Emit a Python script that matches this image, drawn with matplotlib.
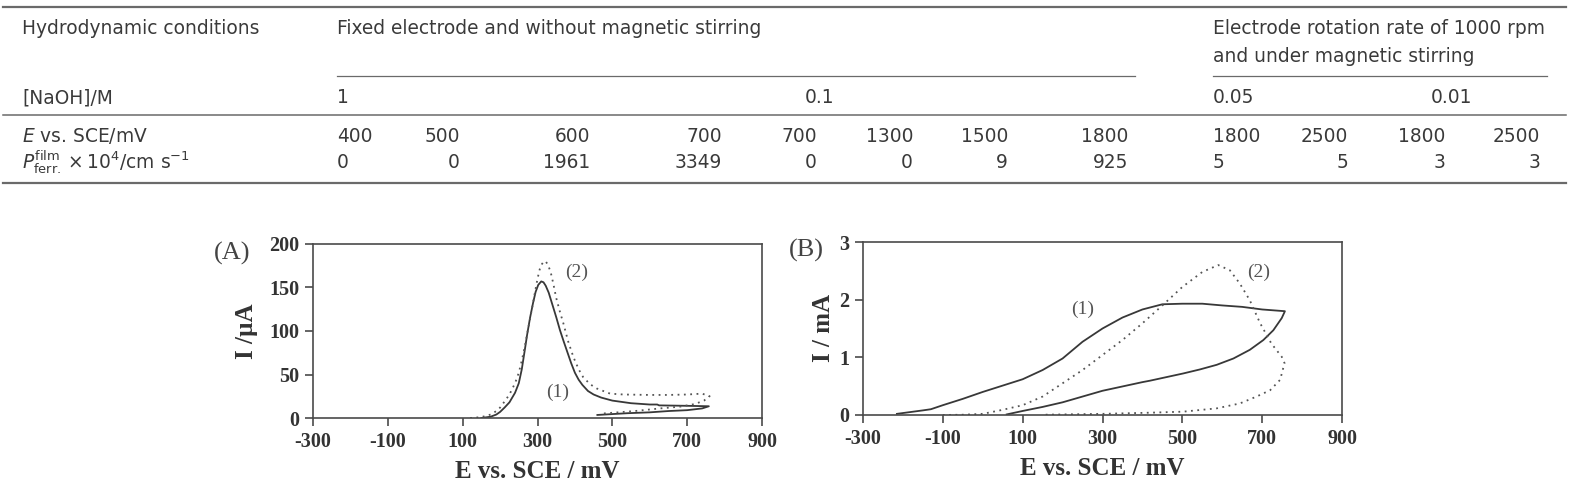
import numpy as np
import matplotlib
matplotlib.use("Agg")
import matplotlib.pyplot as plt

# ---- table contents ----
row_labels = ["Hydrodynamic conditions", "[NaOH]/M", r"$E$ vs. SCE/mV",
              r"$P^{\rm film}_{\rm ferr.}\times10^{4}/{\rm cm\ s}^{-1}$"]
hydro_conditions = ["Fixed electrode and without magnetic stirring",
                    "Electrode rotation rate of 1000 rpm|and under magnetic stirring"]
naoh = ["1", "0.1", "0.05", "0.01"]
e_vs_sce = [400, 500, 600, 700, 700, 1300, 1500, 1800, 1800, 2500, 1800, 2500]
p_ferr = [0, 0, 1961, 3349, 0, 0, 9, 925, 5, 5, 3, 3]

# ---- voltammograms ----
a1_e = [150, 175, 190, 200, 212, 225, 240, 250, 258, 266, 272, 280, 288, 295, 302, 310,
        316, 322, 330, 340, 350, 360, 370, 378, 390, 400, 410, 420, 435, 450, 470,
        500, 550, 600, 620, 625, 700, 758, 740, 700, 650, 600, 540, 500, 460]
a1_i = [0, 1.5, 4, 7, 12, 18, 29, 40, 56, 78, 95, 115, 132, 145, 153, 157,
        156, 152, 144, 130, 116, 101, 88, 78, 63, 52, 44, 38, 31, 27, 23.5,
        20, 17, 15.5, 15.5, 14.5, 14, 13.5, 11, 9, 8, 6.5, 5.5, 4.5, 3.5]
a2_e = [120, 150, 175, 190, 200, 212, 225, 240, 250, 258, 266, 275, 285, 293, 300, 306,
        312, 317, 322, 328, 335, 342, 350, 360, 369, 382, 396, 410, 422, 440,
        458, 494, 530, 600, 650, 700, 740, 760, 745, 720, 680, 627, 560, 500, 470]
a2_i = [0, 1, 4, 8, 12, 19, 27, 40, 52, 66, 82, 103, 125, 144, 160, 171,
        177, 180, 180, 176, 168, 155, 138, 122, 109, 88, 70, 56, 47, 39,
        34, 28, 27, 26.5, 26.5, 27, 28, 25, 20, 16, 13, 11, 8, 6, 5]

b1_e = [-215, -150, -130, -100, -50, 0, 50, 100, 150, 200, 250, 300, 350, 400, 450, 500,
        550, 600, 650, 700, 757, 749, 728, 703, 669, 628, 586, 544, 502, 419, 400, 300,
        200, 150, 100, 60]
b1_i = [0.02, 0.08, 0.1, 0.17, 0.28, 0.4, 0.51, 0.62, 0.78, 0.98, 1.27, 1.5, 1.69, 1.83,
        1.92, 1.93, 1.93, 1.9, 1.875, 1.83, 1.8, 1.68, 1.47, 1.30, 1.13, 0.98, 0.87, 0.79,
        0.72, 0.595, 0.57, 0.42, 0.22, 0.14, 0.07, 0.01]
b2_e = [-100, -50, 0, 50, 100, 150, 200, 250, 300, 350, 400, 450, 500, 550, 590, 619,
        644, 669, 695, 723, 749, 756, 745, 720, 686, 644, 586, 502, 419, 300, 200, 150]
b2_i = [0, 0.005, 0.02, 0.09, 0.17, 0.32, 0.55, 0.78, 1.04, 1.3, 1.59, 1.9, 2.22, 2.48,
        2.6, 2.51, 2.28, 1.99, 1.59, 1.24, 1.01, 0.9, 0.61, 0.43, 0.32, 0.2, 0.115,
        0.058, 0.04, 0.02, 0.01, 0.005]

W, H = 1575, 497
plt.rcParams['axes.unicode_minus'] = False
fig = plt.figure(figsize=(W / 100, H / 100), dpi=100, facecolor='w')

tcol = '#3a3a3a'
lcol = '#6a6a6a'


def fx(x):
    return x / W


def fy(y):
    return 1 - y / H


def hline(y, x0, x1, lw):
    fig.add_artist(plt.Line2D([fx(x0), fx(x1)], [fy(y), fy(y)], color=lcol, lw=lw))


def ttext(x, y, s, ha='left'):
    fig.text(fx(x), fy(y), s, ha=ha, va='baseline', fontsize=13.4,
             color=tcol, family='DejaVu Sans')


# table rules
hline(7, 3, 1566, 1.6)
hline(76, 337, 1135, 0.9)
hline(76, 1213, 1547, 0.9)
hline(115, 3, 1566, 1.1)
hline(183, 3, 1566, 1.6)

# row labels
ttext(22, 34, row_labels[0])
ttext(22, 103, row_labels[1])
ttext(22, 142, row_labels[2])
ttext(22, 168, row_labels[3])

# header groups
ttext(337, 34, hydro_conditions[0])
for k, line in enumerate(hydro_conditions[1].split('|')):
    ttext(1213, 34 + 27.5 * k, line)

naoh_x = [337, 820, 1213, 1452]
naoh_ha = ['left', 'center', 'left', 'center']
for s, x, ha in zip(naoh, naoh_x, naoh_ha):
    ttext(x, 103, s, ha)

col_x = [337, 460, 590, 722, 817, 913, 1008, 1128, 1213, 1348, 1445, 1540]
col_ha = ['left'] + ['right'] * 7 + ['left'] + ['right'] * 3
for e, p, x, ha in zip(e_vs_sce, p_ferr, col_x, col_ha):
    ttext(x, 142, str(e), ha)
    ttext(x, 168, str(p), ha)

# ---- plots ----
serif = 'Liberation Serif'
axcol = '#4a4a4a'
curve = '#383838'


def style(ax, yticks, ylabel, ypad):
    ax.set_xlim(-300, 900)
    ax.set_xticks([-300, -100, 100, 300, 500, 700, 900])
    ax.set_yticks(yticks)
    ax.set_ylim(yticks[0], yticks[-1])
    for sp in ax.spines.values():
        sp.set_color(axcol)
        sp.set_linewidth(1.2)
    ax.tick_params(direction='out', length=6, width=1.2, color=axcol,
                   labelsize=14.5, labelcolor='#333333', pad=4)
    for lab in ax.get_xticklabels() + ax.get_yticklabels():
        lab.set_family(serif)
        lab.set_fontweight('bold')
    ax.set_xlabel('E vs. SCE / mV', family=serif, fontweight='bold', fontsize=18,
                  color='#333333', labelpad=6)
    ax.set_ylabel(ylabel, family=serif, fontweight='bold', fontsize=18,
                  color='#333333', labelpad=ypad)


axA = fig.add_axes([313 / W, 1 - 418 / H, 449 / W, 174 / H])
axA.plot(a1_e, a1_i, color=curve, lw=1.3)
axA.plot(a2_e, a2_i, color='#555555', lw=1.3, ls=(0, (1, 2.5)))
style(axA, [0, 50, 100, 150, 200], 'I /\u00b5A', 8)
axA.text(405, 167, '(2)', family=serif, fontsize=14, color='#555555', ha='center', va='center')
axA.text(355, 29, '(1)', family=serif, fontsize=14, color='#555555', ha='center', va='center')
axA.text(-0.18, 0.948, '(A)', transform=axA.transAxes, family=serif, fontsize=19,
         color='#444444', ha='center', va='center')

axB = fig.add_axes([863 / W, 1 - 415 / H, 479 / W, 173 / H])
axB.plot(b1_e, b1_i, color=curve, lw=1.3)
axB.plot(b2_e, b2_i, color='#555555', lw=1.3, ls=(0, (1, 2.5)))
style(axB, [0, 1, 2, 3], 'I / mA', 3)
axB.text(249, 1.84, '(1)', family=serif, fontsize=14, color='#555555', ha='center', va='center')
axB.text(692, 2.48, '(2)', family=serif, fontsize=14, color='#555555', ha='center', va='center')
axB.text(-0.119, 0.954, '(B)', transform=axB.transAxes, family=serif, fontsize=19,
         color='#444444', ha='center', va='center')

fig.savefig('out.png', dpi=100)
